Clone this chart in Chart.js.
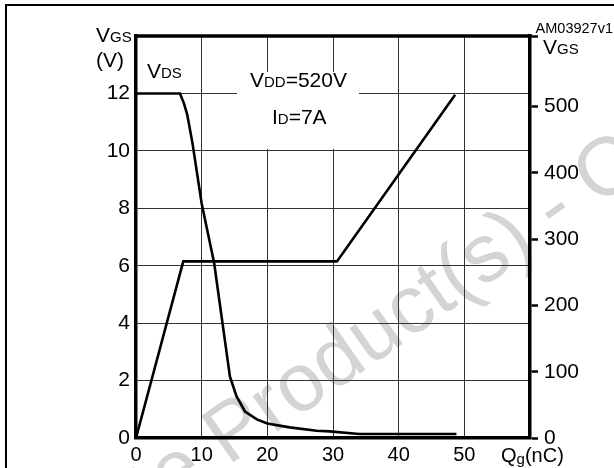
<!DOCTYPE html>
<html>
<head>
<meta charset="utf-8">
<script src="https://cdn.jsdelivr.net/npm/chart.js@4.4.1/dist/chart.umd.min.js"></script>
<style>
    html, body { margin: 0; padding: 0; background: #fff; }
    canvas { display: block; }
</style>
</head>
<body>
<canvas id="gateChart" width="614" height="468"></canvas>
<script>
// gate charge curves (Qg in nC)
const vgsCharge = [0, 7.2, 30.6, 48.6];
const vgsVolts = [0, 6.15, 6.15, 11.95];
const vdsCharge = [0, 6.7, 7.3, 7.8, 8.6, 10, 11.9, 12.8, 13.5, 14.3, 15.3, 16.6, 18.4, 20, 23.4, 27.5, 29.5, 34, 48.8];
const vdsVolts = [520, 520, 505, 488, 445, 354, 264, 200, 150, 93, 63, 40, 28, 22, 16, 11, 10, 6, 6];

const xTicks = [0, 10, 20, 30, 40, 50, 60];
const leftTicks = [0, 2, 4, 6, 8, 10, 12, 14];
const rightTicks = [0, 100, 200, 300, 400, 500];
const rightMax = 520 * 14 / 12;

const FONT = "'Liberation Sans', Arial, Helvetica, sans-serif";

function pts(xs, ys) {
    return xs.map((x, i) => ({ x: x, y: ys[i] }));
}

// text with mixed sizes, left aligned on a baseline
function rich(ctx, x, y, parts) {
    ctx.textAlign = 'left';
    ctx.textBaseline = 'alphabetic';
    parts.forEach(p => {
        ctx.font = p[1] + 'px ' + FONT;
        ctx.fillText(p[0], x, y + (p[2] || 0));
        x += ctx.measureText(p[0]).width;
    });
}

const decor = {
    id: 'decor',
    beforeDraw(chart) {
        const ctx = chart.ctx;
        ctx.save();
        ctx.fillStyle = '#fff';
        ctx.fillRect(0, 0, chart.width, chart.height);
        ctx.strokeStyle = '#000';
        ctx.lineWidth = 2;
        ctx.strokeRect(6, 5, 700, 600);
        // watermark
        ctx.translate(228, 466);
        ctx.rotate(-35 * Math.PI / 180);
        ctx.font = '82px ' + FONT;
        ctx.fillStyle = '#d4d4d4';
        const pre = 'Obsolete ';
        ctx.fillText(pre + 'Product(s) - Obsolete Product(s)', -ctx.measureText(pre).width, 0);
        ctx.restore();
    },
    beforeDatasetsDraw(chart) {
        const ctx = chart.ctx;
        const a = chart.chartArea;
        ctx.save();
        ctx.fillStyle = '#fff';
        ctx.fillRect(237, 72, 122, 77);
        ctx.strokeStyle = '#000';
        ctx.lineWidth = 3.5;
        ctx.beginPath();
        ctx.moveTo(a.left - 1.75, a.top);
        ctx.lineTo(a.right + 1.75, a.top);
        ctx.stroke();
        ctx.restore();
    },
    afterDraw(chart) {
        const ctx = chart.ctx;
        ctx.save();
        ctx.fillStyle = '#000';
        rich(ctx, 96, 42, [['V', 21], ['GS', 15]]);
        rich(ctx, 96, 67, [['(V)', 21]]);
        rich(ctx, 147, 78, [['V', 21], ['DS', 15]]);
        rich(ctx, 250, 87, [['V', 21], ['DD', 15], ['=520V', 21]]);
        rich(ctx, 272, 124, [['I', 21], ['D', 15], ['=7A', 21]]);
        rich(ctx, 543, 54, [['V', 21], ['GS', 15]]);
        rich(ctx, 501, 462, [['Q', 20], ['g', 15, 2], ['(nC)', 20]]);
        ctx.font = '14.5px ' + FONT;
        ctx.textAlign = 'right';
        ctx.fillText('AM03927v1', 613, 33);
        ctx.restore();
    }
};

new Chart(document.getElementById('gateChart'), {
    type: 'scatter',
    data: {
        datasets: [
            {
                label: 'VGS',
                data: pts(vgsCharge, vgsVolts),
                yAxisID: 'y',
                showLine: true,
                borderColor: '#000',
                borderWidth: 2.6,
                pointRadius: 0,
                tension: 0
            },
            {
                label: 'VDS',
                data: pts(vdsCharge, vdsVolts),
                yAxisID: 'y1',
                showLine: true,
                borderColor: '#000',
                borderWidth: 2.6,
                pointRadius: 0,
                tension: 0
            }
        ]
    },
    options: {
        responsive: false,
        animation: false,
        devicePixelRatio: 1,
        layout: { padding: { top: 36, left: 0, right: 0, bottom: 0 } },
        plugins: { legend: { display: false }, tooltip: { enabled: false } },
        scales: {
            x: {
                type: 'linear',
                min: 0,
                max: 60,
                afterBuildTicks: s => { s.ticks = xTicks.map(v => ({ value: v })); },
                afterFit: s => { s.height = 30; },
                grid: { color: '#333', lineWidth: 1, drawTicks: false },
                border: { display: true, color: '#000', width: 3.5 },
                ticks: {
                    color: '#000', padding: 5, maxRotation: 0,
                    font: { family: FONT, size: 20 },
                    callback: v => v === 60 ? '' : v
                }
            },
            y: {
                position: 'left',
                min: 0,
                max: 14,
                afterBuildTicks: s => { s.ticks = leftTicks.map(v => ({ value: v })); },
                afterFit: s => { s.width = 136; },
                grid: { color: '#333', lineWidth: 1, drawTicks: false },
                border: { display: true, color: '#000', width: 3.5 },
                ticks: {
                    color: '#000', padding: 6,
                    font: { family: FONT, size: 21 },
                    callback: v => v === 14 ? '' : v
                }
            },
            y1: {
                position: 'right',
                min: 0,
                max: rightMax,
                afterBuildTicks: s => { s.ticks = rightTicks.concat([rightMax]).map(v => ({ value: v })); },
                afterFit: s => { s.width = 84; },
                grid: { drawOnChartArea: false, drawTicks: true, tickLength: 8, tickColor: '#000', tickWidth: 2.5 },
                border: { display: true, color: '#000', width: 3.5 },
                ticks: {
                    color: '#000', padding: 6,
                    font: { family: FONT, size: 21 },
                    callback: v => rightTicks.includes(v) ? v : ''
                }
            }
        }
    },
    plugins: [decor]
});
</script>
</body>
</html>
